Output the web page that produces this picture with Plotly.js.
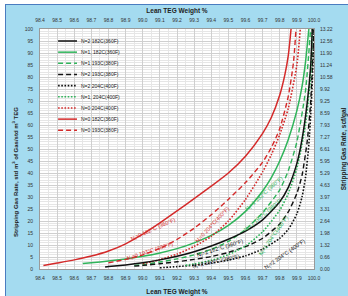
<!DOCTYPE html>
<html><head><meta charset="utf-8">
<script src="https://cdn.plot.ly/plotly-3.0.1.min.js"></script>
<style>
html,body{margin:0;padding:0;background:#fff;width:348px;height:296px;overflow:hidden}
#frame{position:absolute;left:5px;top:4px;width:343px;height:292px;border-left:1px solid #4a7cc0;border-top:1px solid #4a7cc0;background:#a4dbf0}
#chart{position:absolute;left:0;top:0;width:343px;height:292px}
</style></head>
<body><div id="frame"><div id="chart"></div></div>
<script>
// ---- tick labels ----
const xTickValues = [98.4,98.5,98.6,98.7,98.8,98.9,99.0,99.1,99.2,99.3,99.4,99.5,99.6,99.7,99.8,99.9,100.0];
const xTickLabels = ["98.4","98.5","98.6","98.7","98.8","98.9","99.0","99.1","99.2","99.3","99.4","99.5","99.6","99.7","99.8","99.9","100.0"];
const yTickValues = [0,5,10,15,20,25,30,35,40,45,50,55,60,65,70,75,80,85,90,95,100];
const yRightLabels = ["0.00","0.66","1.32","1.98","2.64","3.31","3.97","4.63","5.29","5.95","6.61","7.27","7.93","8.59","9.25","9.92","10.58","11.24","11.90","12.56","13.22"];

// ---- series (x = lean TEG wt %, y = std m3 gas / std m3 TEG) ----
const n2_182_x = [98.78,98.8,98.9,99.0,99.1,99.2,99.3,99.4,99.5,99.6,99.7,99.8,99.85,99.9,99.93,99.96,99.98,99.99];
const n2_182_y = [0.8,1.0,1.7,2.6,3.8,5.3,7.2,9.6,12.4,15.8,20.5,28,34,44,54,69,84,100];
const n1_182_x = [98.65,98.7,98.8,98.9,99.0,99.1,99.2,99.3,99.4,99.5,99.6,99.7,99.75,99.8,99.85,99.9,99.93,99.95,99.97];
const n1_182_y = [2.3,2.6,3.3,4.2,5.3,6.7,8.5,10.9,14.0,18.2,24.0,32.5,38,45,54,66,76,86,100];
const n1_193_x = [98.95,99.0,99.1,99.2,99.3,99.4,99.5,99.6,99.7,99.8,99.85,99.9,99.95,99.98];
const n1_193_y = [1.5,1.9,2.9,4.2,5.9,8.2,11.5,16.5,23.5,33,41,53,74,100];
const n2_193_x = [98.95,99.0,99.1,99.2,99.3,99.4,99.5,99.6,99.7,99.8,99.85,99.9,99.93,99.96,99.98,99.99,100.0];
const n2_193_y = [1.2,1.5,2.2,3.0,4.0,5.2,6.9,9.3,12.8,18.8,23.8,31.5,39,53,69,84,100];
const n2_204_x = [99.1,99.2,99.3,99.4,99.5,99.6,99.7,99.8,99.85,99.9,99.93,99.95,99.97,99.985,99.995,100.0];
const n2_204_y = [0.5,1.0,1.6,2.5,3.7,5.5,8.3,12.8,16.5,23,30,38,52,70,88,100];
const n1_204_x = [99.25,99.3,99.4,99.5,99.6,99.7,99.8,99.85,99.9,99.95,99.98,99.99];
const n1_204_y = [1.5,2.1,3.6,6.0,9.6,15.5,24.5,31.5,42,60,80,100];
const n0_204_x = [99.0,99.1,99.2,99.3,99.4,99.5,99.6,99.7,99.75,99.8,99.85,99.9,99.92];
const n0_204_y = [2.2,3.9,6.2,9.4,13.6,20,29,40.5,47.5,56,67,85,100];
const n0_182_x = [98.42,98.5,98.6,98.7,98.8,98.9,99.0,99.1,99.2,99.3,99.4,99.5,99.6,99.7,99.75,99.8,99.83,99.85,99.866];
const n0_182_y = [1.5,2.5,3.8,5.4,7.5,10.5,14.5,19.2,24.2,29.3,34.5,40,47,56.5,63,72.5,81,89,100];
const n0_193_x = [98.8,98.9,99.0,99.1,99.2,99.3,99.4,99.5,99.6,99.7,99.75,99.8,99.85,99.88,99.895];
const n0_193_y = [2.6,4.0,5.9,8.6,12.3,17,22.6,29,36,44.5,50.5,58.5,72,86,100];

const seriesNames = ["N=2 182C(360F)","N=1, 182C(360F)","N=1 193C(380F)","N=2 193C(380F)","N=2 204C(400F)","N=1, 204C(400F)","N=0 204C(400F)","N=0 182C(360F)","N=0 193C(380F)"];
const curveLabels = ["N<sub>t</sub>=2 182°C (360°F)","N<sub>t</sub>=1 182°C (360°F)","N<sub>t</sub>=1 193°C (380°F)","N<sub>t</sub>=2 193°C (380°F)","N<sub>t</sub>=2 204°C (400°F)","N<sub>t</sub>=1 204°C(400°F)","N<sub>t</sub>=0 204°C(400°F)","N<sub>t</sub>=0 182°C (360°F)","N<sub>t</sub>=0 193°C (380°F)"];

const xs = [n2_182_x,n1_182_x,n1_193_x,n2_193_x,n2_204_x,n1_204_x,n0_204_x,n0_182_x,n0_193_x];
const ys = [n2_182_y,n1_182_y,n1_193_y,n2_193_y,n2_204_y,n1_204_y,n0_204_y,n0_182_y,n0_193_y];

// styles
const RED = '#d42a2a', GRN = '#2fb45a', BLK = '#111111';
const DASH = '5px,3px', DOT = '1.6px,1.6px';
const styles = [
  {color:BLK, dash:'solid', width:1.5},
  {color:GRN, dash:'solid', width:1.5},
  {color:GRN, dash:DASH, width:1.4},
  {color:BLK, dash:DASH, width:1.4},
  {color:BLK, dash:DOT, width:1.6},
  {color:GRN, dash:DOT, width:1.6},
  {color:RED, dash:DOT, width:1.6},
  {color:RED, dash:'solid', width:1.5},
  {color:RED, dash:DASH, width:1.4}
];
// label placement (layout): [x, y, angle]
const labelPlace = [
  [99.45, 8.6, -17],
  [99.71, 31.5, -42],
  [99.70, 22.5, -40],
  [99.43, 3.0, -12],
  [99.83, 6.0, -35],
  [99.765, 14.0, -55],
  [99.41, 18.5, -47],
  [99.06, 16.5, -24],
  [99.04, 7.2, -18]
];

const traces = xs.map((x,i)=>({
  type:'scatter', mode:'lines', x:x, y:ys[i], name:seriesNames[i],
  line:{color:styles[i].color, dash:styles[i].dash, width:styles[i].width, shape:'spline', smoothing:0.6},
  xaxis: i===0 ? 'x2':'x', yaxis: i===0 ? 'y2':'y',
  showlegend:false, hoverinfo:'skip'
}));

const FONT = 'Liberation Sans, Arial, sans-serif';
const tickFont = {family:FONT, size:5, color:'#333'};
const titleFont = {family:FONT, size:6.5, color:'#222', weight:700};
const annotations = [];
const shapes = [];
// manual legend
const legX0 = 0.066, legX1 = 0.135, legTextX = 0.142, legY0 = 0.95, legStep = 0.0465;
seriesNames.forEach((n,i)=>{
  const yy = legY0 - i*legStep;
  shapes.push({type:'line', xref:'paper', yref:'paper', x0:legX0, x1:legX1, y0:yy, y1:yy,
    line:{color:styles[i].color, dash:styles[i].dash, width:styles[i].width}});
  annotations.push({xref:'paper', yref:'paper', x:legTextX, y:yy, text:n, showarrow:false,
    xanchor:'left', yanchor:'middle', font:{family:FONT, size:5, color:'#222'}});
});
// curve labels
curveLabels.forEach((t,i)=>{
  annotations.push({xref:'x', yref:'y', x:labelPlace[i][0], y:labelPlace[i][1], text:t, showarrow:false,
    textangle:labelPlace[i][2], font:{family:FONT, size:5.5, color:styles[i].color}});
});
// left axis title (placed lower than centre, as in the original)
annotations.push({xref:'paper', yref:'paper', x:-0.091, y:0.404,
  text:'Stripping Gas Rate, std m<sup>3</sup> of Gas/std m<sup>3</sup> TEG', showarrow:false,
  textangle:-90, xanchor:'center', yanchor:'middle', font:{family:FONT, size:6, color:'#222', weight:700}});

const gridMajor = '#cfcfcf', gridMinor = '#e6e6e6';
const layout = {
  width:342, height:291,
  margin:{l:34, r:34, t:24, b:27, pad:0},
  paper_bgcolor:'rgba(0,0,0,0)', plot_bgcolor:'#ffffff',
  showlegend:false,
  xaxis:{range:[98.4,100.0], tickvals:xTickValues, ticktext:xTickLabels, ticks:'outside', ticklen:4, tickcolor:'rgba(0,0,0,0)',
    tickfont:tickFont, showgrid:true, gridcolor:gridMajor, gridwidth:1,
    minor:{dtick:0.05, showgrid:true, gridcolor:gridMinor, gridwidth:1, ticks:''},
    title:{text:'Lean TEG Weight %', font:titleFont, standoff:10},
    showline:true, linecolor:'#9a9a9a', linewidth:1, mirror:true, zeroline:false, fixedrange:true},
  yaxis:{range:[0,100], tickvals:yTickValues, ticks:'outside', ticklen:5, tickcolor:'rgba(0,0,0,0)',
    tickfont:tickFont, showgrid:true, gridcolor:gridMajor, gridwidth:1,
    minor:{dtick:1, showgrid:true, gridcolor:gridMinor, gridwidth:1, ticks:''},
    showline:true, linecolor:'#9a9a9a', linewidth:1, mirror:true, zeroline:false, fixedrange:true},
  xaxis2:{range:[98.4,100.0], overlaying:'x', side:'top', anchor:'y2', tickvals:xTickValues, ticktext:xTickLabels,
    ticks:'outside', ticklen:4, tickcolor:'rgba(0,0,0,0)', tickfont:tickFont, showgrid:false, zeroline:false, showline:false, fixedrange:true,
    title:{text:'Lean TEG Weight %', font:titleFont, standoff:2}},
  yaxis2:{range:[0,100], overlaying:'y', side:'right', anchor:'x2', tickvals:yTickValues, ticktext:yRightLabels,
    ticks:'outside', ticklen:4, tickcolor:'rgba(0,0,0,0)', tickfont:tickFont, showgrid:false, zeroline:false, showline:false, fixedrange:true,
    title:{text:'Stripping Gas Rate, scf/gal' + '\u00a0'.repeat(40), font:titleFont, standoff:10}},
  shapes:shapes,
  annotations:annotations
};
Plotly.newPlot('chart', traces, layout, {staticPlot:true, displayModeBar:false});
</script>
</body></html>
